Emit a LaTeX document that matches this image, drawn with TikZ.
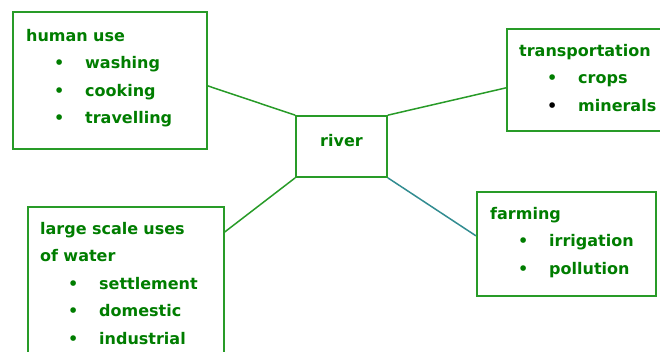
\documentclass[tikz,border=0pt]{standalone}
\usepackage{fontspec}
\setmainfont{DejaVu Sans}
\usepackage{tikz}

\definecolor{txtgreen}{RGB}{0,125,0}
\definecolor{boxgreen}{RGB}{40,155,40}
\definecolor{riverteal}{RGB}{50,140,145}

\newcommand{\bul}[2][txtgreen]{\hspace*{28pt}\makebox[31pt][l]{\textcolor{#1}{\textbullet}}#2}

\begin{document}
\begin{tikzpicture}[x=1pt,y=-1pt]
  \tikzstyle{box}=[draw=boxgreen,line width=1.7pt,inner sep=0pt,anchor=north west]
  \tikzstyle{txt}=[anchor=base west,inner sep=0pt,text=txtgreen,align=left,
    font=\bfseries\fontsize{16}{27.6}\selectfont]
  \tikzstyle{conn}=[draw=boxgreen,line width=1.5pt]
  \useasboundingbox (0,0) rectangle (660,351);
  \clip (0,0) rectangle (660,351);
  % boxes
  \node[box,minimum width=194pt,minimum height=137pt] (H) at (12,11) {};
  \node[box,minimum width=161pt,minimum height=102pt] (T) at (506,28) {};
  \node[box,minimum width=179pt,minimum height=104pt] (F) at (476,191) {};
  \node[box,minimum width=196pt,minimum height=159pt] (L) at (27,206) {};
  \node[box,anchor=center,minimum width=91pt,minimum height=61pt,
    text=txtgreen,font=\bfseries\fontsize{16}{18}\selectfont,
    text height=5pt,text depth=5pt] (R) at (341.5,146.5) {river};
  % texts
  \node[txt,text width=180pt] (Htxt) at (26,41)
    {human use\\ \bul{washing}\\ \bul{cooking}\\ \bul{travelling}};
  \node[txt,text width=150pt] (Ttxt) at (519,56)
    {transportation\\ \bul{crops}\\ \bul[black]{minerals}};
  \node[txt,text width=160pt] (Ftxt) at (490,219)
    {farming\\ \bul{irrigation}\\ \bul{pollution}};
  \node[txt,text width=180pt] (Ltxt) at (40,234)
    {large scale uses\\ of water\\ \bul{settlement}\\ \bul{domestic}\\ \bul{industrial}};
  % links
  \draw[conn] ([yshift=-5.5pt]H.east) -- (R.north west);
  \draw[conn] ([yshift=-8pt]T.west) -- (R.north east);
  \draw[conn] ([yshift=-26pt]L.north east) -- (R.south west);
  \draw[conn,draw=riverteal] ([yshift=8pt]F.west) -- (R.south east);
\end{tikzpicture}
\end{document}
